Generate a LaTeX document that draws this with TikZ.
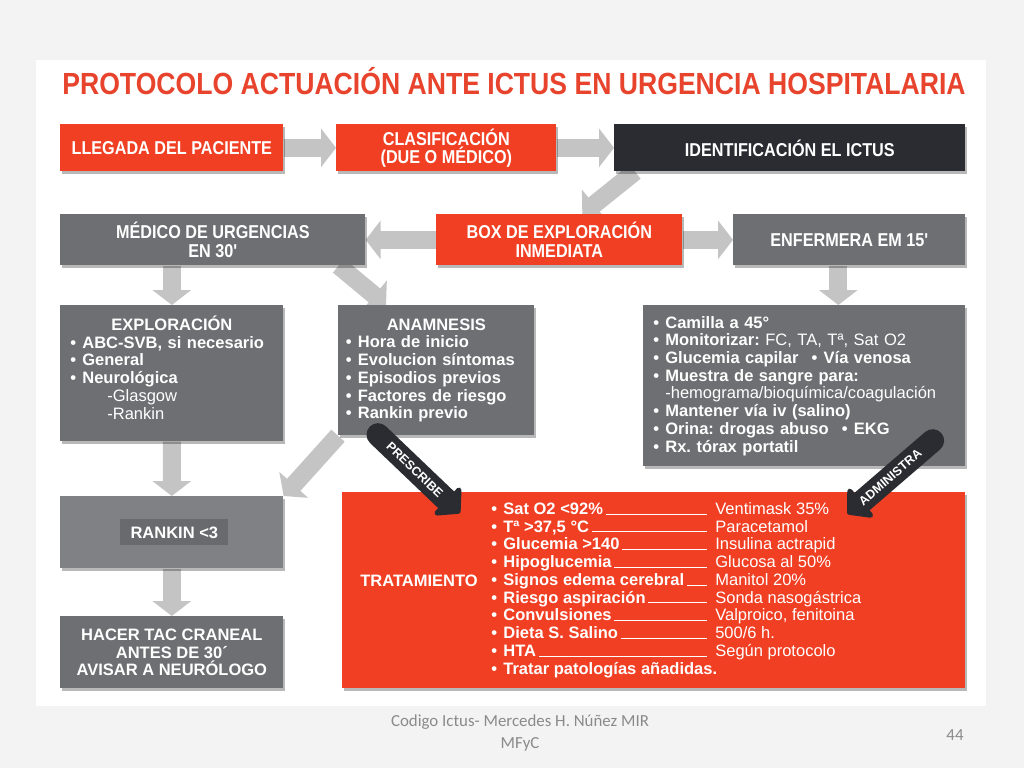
\documentclass[tikz,border=0pt]{standalone}
\usepackage{fontspec}
\setmainfont{Liberation Sans}
\newfontfamily\condfont[FakeStretch=0.87]{Liberation Sans}
\newfontfamily\piefont{Carlito}
\usepackage{tikz}
\usetikzlibrary{arrows.meta,backgrounds,shadows}
\definecolor{ictusred}{HTML}{F03F23}
\definecolor{ictusdark}{HTML}{2A2C32}
\definecolor{ictusgray}{HTML}{6E6F72}
\definecolor{rankingris}{HTML}{808184}
\definecolor{etiquetagris}{HTML}{696A6D}
\definecolor{flechagris}{HTML}{C4C4C4}
\definecolor{tituloroj}{HTML}{E8432C}
\definecolor{piegris}{HTML}{8A8A8A}
\definecolor{fondo}{HTML}{F3F3F3}
\newcommand{\titfont}{\condfont\bfseries\fontsize{17.4}{20}\selectfont}
\newcommand{\cabfont}{\condfont\bfseries\fontsize{10.6}{10.4}\selectfont}
\newcommand{\listfont}{\fontsize{9.4}{10.1}\selectfont}
\newcommand{\guiafont}{\bfseries\fontsize{7.1}{8}\selectfont}
\newcommand{\pietexto}{\piefont\fontsize{9.6}{13}\selectfont}
\newcommand{\vineta}{\makebox[0.24cm][l]{•}}
\newcommand{\trat}[2]{\makebox[4.32cm][l]{\textbf{\vineta #1}\,\hrulefill}\hspace{0.16cm}#2}
\frenchspacing

\begin{document}
\begin{tikzpicture}[x=0.02cm, y=-0.02cm,
  caja/.style={anchor=north west, inner sep=0pt, align=center, text=white,
    drop shadow={fill=black, opacity=0.28, shadow xshift=1.2pt, shadow yshift=-1.4pt}},
  cajaroja/.style={caja, fill=ictusred, font=\cabfont},
  cajagris/.style={caja, fill=ictusgray, font=\cabfont},
  cajanegra/.style={caja, fill=ictusdark, font=\cabfont},
  lista/.style={caja, fill=ictusgray, font=\listfont, align=left, inner xsep=0.2cm},
  flecha/.style={line width=0.36cm, draw=flechagris, -{Triangle[length=0.3cm, width=0.76cm]}},
  guia/.style={line width=0.46cm, draw=ictusdark, line cap=round, -{Triangle[round, length=0.4cm, width=0.88cm]}},
  guiatexto/.style={sloped, text=white, font=\guiafont, inner sep=0pt}
]
  \begin{scope}[on background layer]
    \fill[fondo] (0,0) rectangle (1024,768);
    \fill[white] (36,60) rectangle (986,706);
  \end{scope}

  \node[font=\titfont, text=tituloroj] (titulo) at (514,81) {PROTOCOLO ACTUACIÓN ANTE ICTUS EN URGENCIA HOSPITALARIA};

  \node[cajaroja, minimum width=4.46cm, minimum height=0.94cm] (llegada) at (60,124) {LLEGADA DEL PACIENTE};
  \node[cajaroja, minimum width=4.40cm, minimum height=0.94cm] (clasif) at (336,124) {CLASIFICACIÓN\\(DUE O MÉDICO)};
  \node[cajanegra, minimum width=7.02cm, minimum height=0.94cm] (ident) at (614,124) {IDENTIFICACIÓN EL ICTUS};
  \node[cajagris, minimum width=6.10cm, minimum height=1.02cm] (medico) at (60,214) {MÉDICO DE URGENCIAS\\EN 30'};
  \node[cajaroja, minimum width=4.92cm, minimum height=1.02cm] (boxexp) at (436,214) {BOX DE EXPLORACIÓN\\INMEDIATA};
  \node[cajagris, minimum width=4.64cm, minimum height=1.02cm] (enfermera) at (733,214) {ENFERMERA EM 15'};

  \node[lista, text width=4.06cm, minimum height=2.72cm] (explor) at (60,305) {%
    \makebox[\linewidth]{\textbf{EXPLORACIÓN}}\\
    \textbf{\vineta ABC-SVB, si necesario}\\
    \textbf{\vineta General}\\
    \textbf{\vineta Neurológica}\\
    \hspace*{0.74cm}-Glasgow\\
    \hspace*{0.74cm}-Rankin\\[-0.12cm]\mbox{}};
  \node[lista, inner xsep=0.15cm, text width=3.62cm, minimum height=2.60cm] (anamnesis) at (338,305) {%
    \makebox[\linewidth]{\textbf{ANAMNESIS}}\\
    \textbf{\vineta Hora de inicio}\\
    \textbf{\vineta Evolucion síntomas}\\
    \textbf{\vineta Episodios previos}\\
    \textbf{\vineta Factores de riesgo}\\
    \textbf{\vineta Rankin previo}};
  \node[lista, text width=6.04cm, minimum height=3.22cm] (cuidados) at (643,305) {%
    \textbf{\vineta Camilla a 45°}\\
    \textbf{\vineta Monitorizar:} FC, TA, Tª, Sat O2\\
    \textbf{\vineta Glucemia capilar\hspace{0.8em}\vineta Vía venosa}\\
    \textbf{\vineta Muestra de sangre para:}\\
    \hspace*{0.24cm}-hemograma/bioquímica/coagulación\\
    \textbf{\vineta Mantener vía iv (salino)}\\
    \textbf{\vineta Orina: drogas abuso\hspace{0.8em}\vineta EKG}\\
    \textbf{\vineta Rx. tórax portatil}};

  \node[caja, fill=rankingris, minimum width=4.46cm, minimum height=1.44cm] (rankin) at (60,496) {};
  \node[fill=etiquetagris, text=white, font=\listfont\bfseries, minimum width=2.16cm, minimum height=0.52cm, inner sep=0pt] (rankinlbl) at ([xshift=0.05cm]rankin.center) {RANKIN <3};
  \node[caja, fill=ictusgray, font=\listfont\bfseries, minimum width=4.46cm, minimum height=1.44cm] (tac) at (60,616) {HACER TAC CRANEAL\\ANTES DE 30´\\AVISAR A NEURÓLOGO};

  \node[caja, fill=ictusred, minimum width=12.46cm, minimum height=3.92cm] (tratam) at (342,492) {};
  \node[text=white, font=\listfont\bfseries, inner sep=0pt] (tratlbl) at (419,581) {TRATAMIENTO};
  \node[anchor=west, text=white, font=\listfont, align=left, inner sep=0pt] (tratlist) at (491,590) {%
    \trat{Sat O2 <92\%}{Ventimask 35\%}\\
    \trat{Tª >37,5 °C}{Paracetamol}\\
    \trat{Glucemia >140}{Insulina actrapid}\\
    \trat{Hipoglucemia}{Glucosa al 50\%}\\
    \trat{Signos edema cerebral}{Manitol 20\%}\\
    \trat{Riesgo aspiración}{Sonda nasogástrica}\\
    \trat{Convulsiones}{Valproico, fenitoina}\\
    \trat{Dieta S. Salino}{500/6 h.}\\
    \trat{HTA}{Según protocolo}\\
    \textbf{\vineta Tratar patologías añadidas.}};

  \begin{scope}[on background layer]
    \draw[flecha] (llegada) -- (clasif);
    \draw[flecha] (clasif) -- (ident);
    \draw[flecha] ([xshift=0.42cm]ident.south west) -- ([xshift=0.46cm]boxexp.north);
    \draw[flecha] (boxexp) -- (medico);
    \draw[flecha] (boxexp) -- (enfermera);
    \draw[flecha] (explor.north |- medico.south) -- (explor.north);
    \draw[flecha] ([xshift=-0.54cm]medico.south east) -- ([xshift=0.96cm]anamnesis.north west);
    \draw[flecha] ([xshift=-0.22cm]enfermera.south) -- ([xshift=-0.22cm]enfermera.south |- cuidados.north);
    \draw[flecha] (explor) -- (rankin);
    \draw[flecha] (anamnesis.south west) -- (rankin.north east);
    \draw[flecha] (rankin) -- (tac);
  \end{scope}

  \draw[guia] ([shift={(0.8cm,0.02cm)}]anamnesis.south west) -- ([shift={(2.36cm,-0.42cm)}]tratam.north west)
    node[guiatexto, pos=0.45] (prescribe) {PRESCRIBE};
  \draw[guia] ([shift={(-0.66cm,0.52cm)}]cuidados.south east) -- ([shift={(-2.36cm,-0.44cm)}]tratam.north east)
    node[guiatexto, pos=0.5] (administra) {ADMINISTRA};

  \node[font=\pietexto, text=piegris, align=center] (pie) at (520,733) {Codigo Ictus- Mercedes H. Núñez MIR\\MFyC};
  \node[font=\pietexto, text=piegris] (pagina) at (955,735) {44};
\end{tikzpicture}
\end{document}
